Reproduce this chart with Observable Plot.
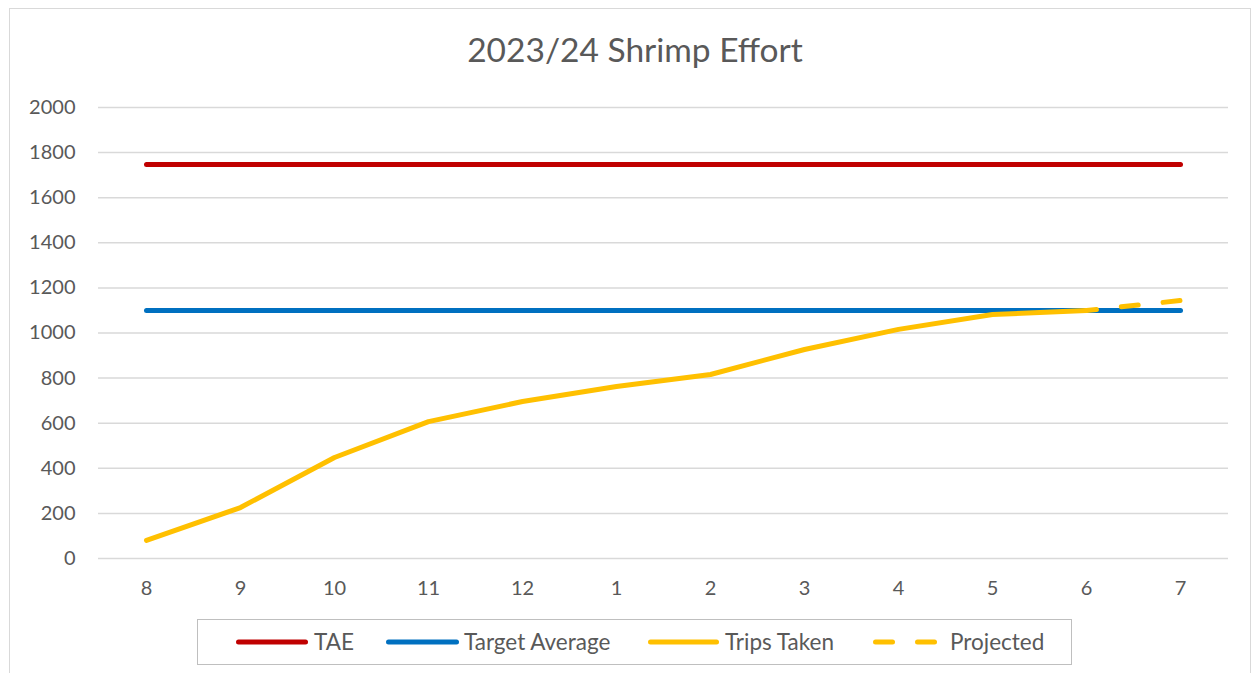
<!DOCTYPE html>
<html><head><meta charset="utf-8">
<script src="https://cdn.jsdelivr.net/npm/d3@7"></script>
<script src="https://cdn.jsdelivr.net/npm/@observablehq/plot@0.6"></script>
<style>
body{margin:0;background:#fff;font-family:Lato,"Open Sans",sans-serif;overflow:hidden}
#frame{position:absolute;left:9px;top:8px;width:1242px;height:720px;border:1.5px solid #d9d9d9;box-sizing:border-box}
#title{position:absolute;left:0;top:28px;width:1270px;text-align:center;font-size:33.5px;line-height:42px;color:#595959}
#chart{position:absolute;left:0;top:85px}
#legend{position:absolute;left:197px;top:619px;width:875px;height:46px;border:1.5px solid #bfbfbf;box-sizing:border-box}
.item{position:absolute;top:0;height:43px;display:flex;align-items:center;font-size:22.5px;color:#595959;white-space:nowrap}
.item svg{display:block}
</style></head>
<body>
<div id="frame"></div>
<div id="title">2023/24 Shrimp Effort</div>
<div id="chart"></div>
<div id="legend"></div>
<script>
const months = ["8","9","10","11","12","1","2","3","4","5","6","7"];
const tripsMonths = ["8","9","10","11","12","1","2","3","4","5","6"];
const tripsTaken = [80, 226, 448, 607, 696, 763, 816, 927, 1016, 1082, 1100];
const projectedMonths = ["6","7"];
const projectedValues = [1100, 1144];
const taeValue = 1747;
const targetAverage = 1100;
const yTicks = [0,200,400,600,800,1000,1200,1400,1600,1800,2000];
const seriesNames = ["TAE","Target Average","Trips Taken","Projected"];
const colors = {"TAE":"#c00000","Target Average":"#0070c0","Trips Taken":"#ffc000","Projected":"#ffc000"};

const taeData = months.map(m => ({month:m, value:taeValue}));
const targetData = months.map(m => ({month:m, value:targetAverage}));
const tripsData = tripsMonths.map((m,i) => ({month:m, value:tripsTaken[i]}));
const projData = projectedMonths.map((m,i) => ({month:m, value:projectedValues[i]}));

const lineOpts = {x:"month", y:"value", strokeWidth:5, strokeLinecap:"round", strokeLinejoin:"round"};

const chart = Plot.plot({
  width:1255, height:515,
  marginLeft:98, marginRight:27, marginTop:22, marginBottom:42,
  x:{type:"point", domain:months, padding:0.5, label:null},
  y:{domain:[0,2000], label:null},
  style:{fontSize:"20px", fontFamily:"Lato, 'Open Sans', sans-serif", color:"#595959", background:"transparent"},
  marks:[
    Plot.gridY(yTicks, {stroke:"#d9d9d9", strokeOpacity:1, strokeWidth:1.5}),
    Plot.axisY(yTicks, {tickSize:0, tickPadding:23, label:null, fill:"#595959", tickFormat:d => String(d)}),
    Plot.axisX(months, {tickSize:0, tickPadding:22, label:null, fill:"#595959"}),
    Plot.line(taeData, {...lineOpts, stroke:colors["TAE"]}),
    Plot.line(targetData, {...lineOpts, stroke:colors["Target Average"]}),
    Plot.line(projData, {...lineOpts, stroke:colors["Projected"], strokeDasharray:"17,25", strokeDashoffset:7}),
    Plot.line(tripsData, {...lineOpts, stroke:colors["Trips Taken"]})
  ]
});
document.getElementById("chart").appendChild(chart);

const legendPos = [{sw:[[38,110]], tx:116},{sw:[[188,261]], tx:266},{sw:[[450,521]], tx:527},{sw:[[675,697],[717,739]], tx:752}];
const legend = document.getElementById("legend");
seriesNames.forEach((name,i) => {
  const p = legendPos[i];
  const x0 = p.sw[0][0] - 3, x1 = p.sw[p.sw.length-1][1] + 3;
  const sw = document.createElementNS("http://www.w3.org/2000/svg","svg");
  sw.setAttribute("width", x1 - x0); sw.setAttribute("height", 10);
  p.sw.forEach(([a,b]) => {
    const l = document.createElementNS("http://www.w3.org/2000/svg","line");
    l.setAttribute("x1",a - x0 + 2.5); l.setAttribute("x2",b - x0 - 2.5); l.setAttribute("y1",5); l.setAttribute("y2",5);
    l.setAttribute("stroke", colors[name]); l.setAttribute("stroke-width",5); l.setAttribute("stroke-linecap","round");
    sw.appendChild(l);
  });
  const a = document.createElement("div"); a.className="item"; a.style.left = x0+"px"; a.appendChild(sw);
  const b = document.createElement("div"); b.className="item"; b.style.left = p.tx+"px"; b.textContent = name;
  legend.appendChild(a); legend.appendChild(b);
});
</script>
</body></html>
